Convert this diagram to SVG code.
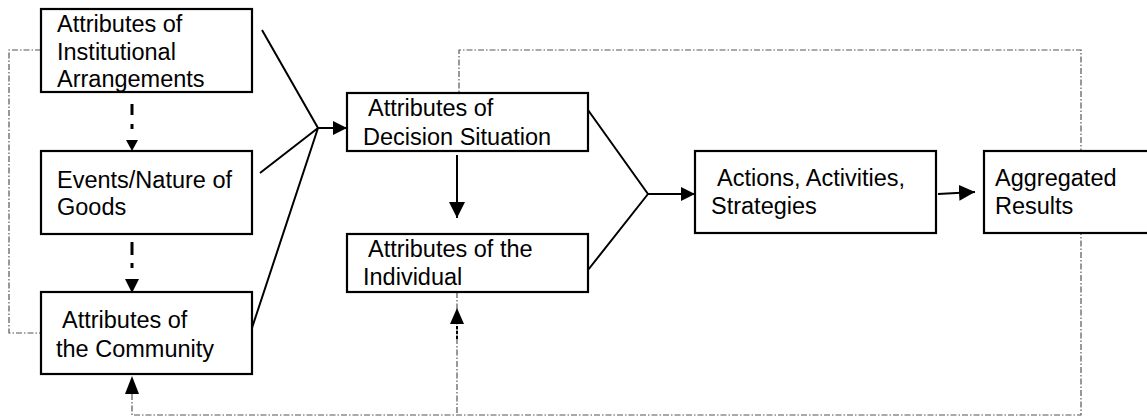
<svg xmlns="http://www.w3.org/2000/svg" width="1147" height="416" viewBox="0 0 1147 416">
<style>
.box{fill:#fff;stroke:#000;stroke-width:2.2}
.t{font-family:"Liberation Sans",Arial,sans-serif;font-size:23.5px;fill:#000}
.ln{fill:none;stroke:#000;stroke-width:2}
.dd{fill:none;stroke:#555;stroke-width:1.2;stroke-dasharray:6 2 1.5 2}
.thick{fill:none;stroke:#000;stroke-width:3}
.head{fill:#000}
</style>
<defs>
<marker id="ah" viewBox="0 0 14 14" refX="14" refY="7" markerWidth="14" markerHeight="14" markerUnits="userSpaceOnUse" orient="auto">
<path d="M0,0 L14,7 L0,14 z" fill="#000"/>
</marker>
<marker id="ahb" viewBox="0 0 16 16" refX="16" refY="8" markerWidth="16" markerHeight="16" markerUnits="userSpaceOnUse" orient="auto">
<path d="M0,0 L16,8 L0,16 z" fill="#000"/>
</marker>
</defs>
<g id="connectors">
<path class="dd" d="M41,50 H9 V333 H41"/>
<path class="dd" d="M132,394 V415 H1081 V50 H459 V93"/>
<path class="dd" d="M457,292 V415"/>
<path class="head" d="M132,376 L125,394 L139,394 z"/>
<path class="head" d="M457,308 L450,324 L464,324 z"/>
<path d="M457,326 V340" stroke="#000" stroke-width="2" stroke-dasharray="3 2" fill="none"/>
<path class="thick" d="M132,104 V115 M132,124 V129"/>
<path class="head" d="M132,151 L126,140 L138,140 z"/>
<path class="thick" d="M132,242 V255 M132,263 V268"/>
<path class="head" d="M132,293 L125,279 L139,279 z"/>
<path class="ln" d="M262,30 L318,128 M260,173 L318,128 M249,337 L318,128"/>
<path class="ln" d="M318,128 H347" marker-end="url(#ah)"/>
<path class="ln" d="M457,155 V218" stroke-width="2.5" marker-end="url(#ahb)"/>
<path class="ln" d="M588,110 L648,194 M588,270 L648,194"/>
<path class="ln" d="M648,194 H695" marker-end="url(#ah)"/>
<path class="ln" d="M938,194 L975,192" stroke-width="2.5" marker-end="url(#ahb)"/>
</g>
<g id="n1">
<rect class="box" x="41" y="9" width="211" height="83"/>
<text class="t" x="57" y="32">Attributes of</text>
<text class="t" x="57" y="60">Institutional</text>
<text class="t" x="57" y="87">Arrangements</text>
</g>
<g id="n2">
<rect class="box" x="41" y="151" width="211" height="83"/>
<text class="t" x="57" y="188">Events/Nature of</text>
<text class="t" x="57" y="215">Goods</text>
</g>
<g id="n3">
<rect class="box" x="41" y="292" width="211" height="82"/>
<text class="t" x="62" y="328">Attributes of</text>
<text class="t" x="56" y="357">the Community</text>
</g>
<g id="n4">
<rect class="box" x="347" y="93" width="241" height="58"/>
<text class="t" x="368" y="116">Attributes of</text>
<text class="t" x="363" y="145">Decision Situation</text>
</g>
<g id="n5">
<rect class="box" x="347" y="234" width="241" height="58"/>
<text class="t" x="368" y="257">Attributes of the</text>
<text class="t" x="363" y="285">Individual</text>
</g>
<g id="n6">
<rect class="box" x="695" y="151" width="241" height="82"/>
<text class="t" x="717" y="186">Actions, Activities,</text>
<text class="t" x="711" y="214">Strategies</text>
</g>
<g id="n7">
<rect class="box" x="984" y="151" width="170" height="82"/>
<text class="t" x="995" y="186">Aggregated</text>
<text class="t" x="995" y="214">Results</text>
</g>
</svg>
